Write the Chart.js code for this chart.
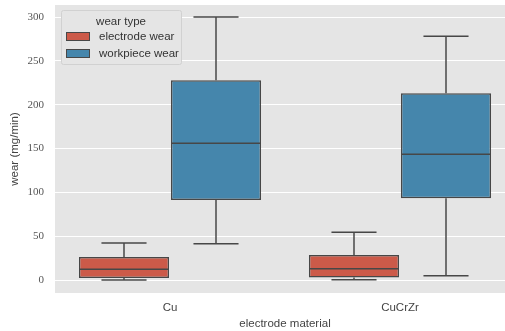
<!DOCTYPE html>
<html>
<head>
<meta charset="utf-8">
<script src="https://cdn.jsdelivr.net/npm/chart.js@4/dist/chart.umd.min.js"></script>
<style>
html,body{margin:0;padding:0;overflow:hidden;background:#fff;width:505px;height:331px;}
#wrap{position:absolute;left:0;top:0;width:516px;height:331px;}
</style>
</head>
<body>
<div id="wrap"><canvas id="c" width="516" height="331"></canvas></div>
<script>
const categories = ['Cu', 'CuCrZr'];
const seriesNames = ['electrode wear', 'workpiece wear'];
const electrodeLow = [0, 0.3];
const electrodeQ1 = [2.3, 3.0];
const electrodeMedian = [12.2, 12.9];
const electrodeQ3 = [26.2, 28.5];
const electrodeHigh = [42.2, 54.4];
const workpieceLow = [41.4, 4.9];
const workpieceQ1 = [91.3, 93.2];
const workpieceMedian = [155.9, 143.4];
const workpieceQ3 = [228, 213];
const workpieceHigh = [300, 278];
const yTicks = [0, 50, 100, 150, 200, 250, 300];

const colors = ['#CC5A49', '#4586AC'];
const lineColor = '#474747';

const stats = [
  {low: electrodeLow, q1: electrodeQ1, med: electrodeMedian, q3: electrodeQ3, high: electrodeHigh},
  {low: workpieceLow, q1: workpieceQ1, med: workpieceMedian, q3: workpieceQ3, high: workpieceHigh}
];

const datasets = stats.map((s, i) => ({
  label: seriesNames[i],
  data: s.q1.map((v, j) => [v, s.q3[j]]),
  backgroundColor: colors[i],
  borderColor: lineColor,
  borderWidth: 1.5,
  borderSkipped: false,
  categoryPercentage: 0.8,
  barPercentage: 0.98
}));

const bgPlugin = {
  id: 'bg',
  beforeDraw(chart) {
    const {ctx, chartArea: a} = chart;
    ctx.save();
    ctx.fillStyle = '#E5E5E5';
    ctx.fillRect(a.left, a.top, a.right - a.left, a.bottom - a.top);
    ctx.restore();
  }
};

const boxPlugin = {
  id: 'boxparts',
  afterDatasetsDraw(chart) {
    const ctx = chart.ctx;
    const y = chart.scales.y;
    ctx.save();
    ctx.strokeStyle = lineColor;
    ctx.lineWidth = 1.5;
    stats.forEach((s, i) => {
      const meta = chart.getDatasetMeta(i);
      meta.data.forEach((bar, j) => {
        const x = bar.x, w = bar.width;
        const half = w / 2 - 0.75;
        const cap = w / 4;
        const line = (x1, y1, x2, y2) => { ctx.beginPath(); ctx.moveTo(x1, y1); ctx.lineTo(x2, y2); ctx.stroke(); };
        const pMed = y.getPixelForValue(s.med[j]);
        line(x - half, pMed, x + half, pMed);
        const pQ3 = y.getPixelForValue(s.q3[j]);
        const pHigh = y.getPixelForValue(s.high[j]);
        line(x, pQ3, x, pHigh);
        line(x - cap, pHigh, x + cap, pHigh);
        const pQ1 = y.getPixelForValue(s.q1[j]);
        const pLow = y.getPixelForValue(s.low[j]);
        line(x, pQ1, x, pLow);
        line(x - cap, pLow, x + cap, pLow);
      });
    });
    ctx.restore();
  },
  afterDraw(chart) {
    const ctx = chart.ctx;
    const a = chart.chartArea;
    const lx = a.left + 6, ly = a.top + 5, lw = 120, lh = 54;
    ctx.save();
    ctx.fillStyle = '#E5E5E5';
    ctx.strokeStyle = '#D1D1D1';
    ctx.lineWidth = 1;
    ctx.beginPath();
    ctx.roundRect(lx + 0.5, ly + 0.5, lw, lh, 2);
    ctx.fill();
    ctx.stroke();
    ctx.font = '11.5px "Liberation Sans", sans-serif';
    ctx.fillStyle = '#333333';
    ctx.textAlign = 'center';
    ctx.textBaseline = 'middle';
    ctx.fillText('wear type', lx + 60, ly + 12);
    ctx.textAlign = 'left';
    chart.data.datasets.forEach((d, i) => {
      const sy = ly + 22 + i * 17;
      ctx.fillStyle = d.backgroundColor;
      ctx.fillRect(lx + 5, sy, 24, 9);
      ctx.strokeStyle = lineColor;
      ctx.strokeRect(lx + 5.5, sy + 0.5, 23, 8);
      ctx.fillStyle = '#333333';
      ctx.fillText(d.label, lx + 38, sy + 5);
    });
    ctx.restore();
  }
};

new Chart(document.getElementById('c'), {
  type: 'bar',
  data: {labels: categories, datasets},
  options: {
    responsive: false,
    animation: false,
    devicePixelRatio: 1,
    layout: {padding: {top: 5, right: 1, left: 0, bottom: 0}},
    plugins: {legend: {display: false}, tooltip: {enabled: false}},
    scales: {
      x: {
        grid: {display: false, drawTicks: false},
        border: {display: false},
        ticks: {padding: 8, color: '#444444', font: {family: '"Liberation Sans", sans-serif', size: 11.5}},
        title: {display: true, text: 'electrode material', color: '#444444', padding: {top: 0, bottom: 0},
                font: {family: '"Liberation Sans", sans-serif', size: 11.5}},
        afterFit(s) { s.height = 38; s.paddingLeft = 0; s.paddingRight = 0; }
      },
      y: {
        min: -14.8,
        max: 313.7,
        grid: {color: '#FFFFFF', lineWidth: 1, drawTicks: false},
        border: {display: false},
        ticks: {padding: 11, color: '#555555', font: {family: '"Liberation Serif", serif', size: 11}},
        afterBuildTicks(s) { s.ticks = yTicks.map(v => ({value: v})); },
        title: {display: true, text: 'wear (mg/min)', color: '#444444', padding: {top: 8, bottom: 0},
                font: {family: '"Liberation Sans", sans-serif', size: 11.5}},
        afterFit(s) { s.width = 55; s.paddingTop = 0; s.paddingBottom = 0; }
      }
    }
  },
  plugins: [bgPlugin, boxPlugin]
});
</script>
</body>
</html>
